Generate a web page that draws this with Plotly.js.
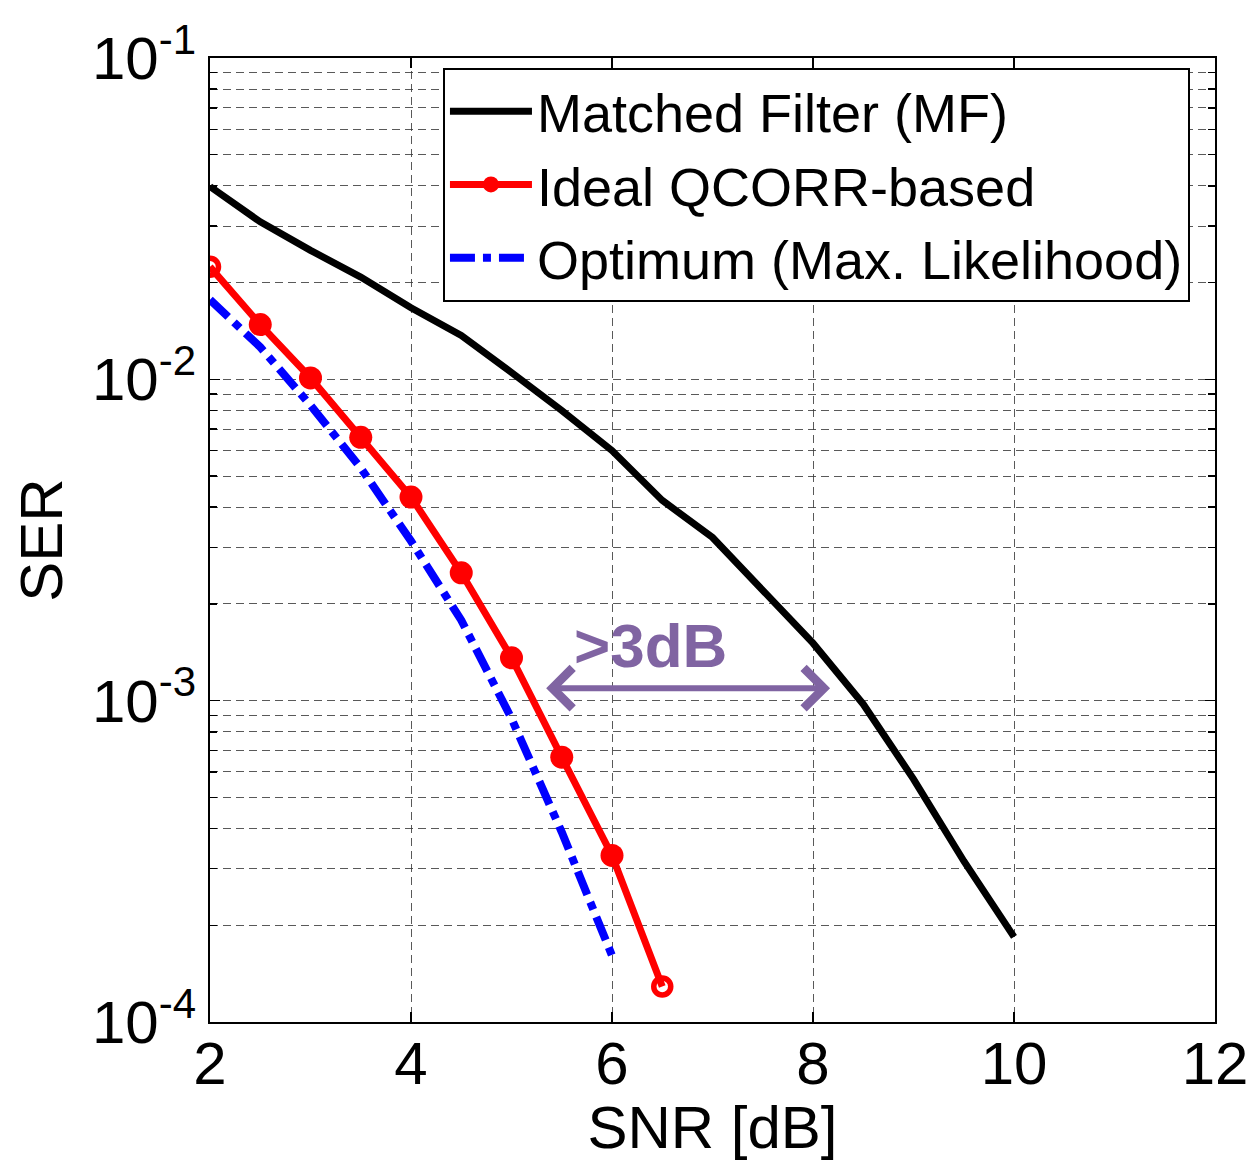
<!DOCTYPE html>
<html>
<head>
<meta charset="utf-8">
<script src="https://cdn.plot.ly/plotly-3.0.1.min.js"></script>
<style>
  html, body { margin: 0; padding: 0; background: #fff; }
  #chart { width: 1254px; height: 1161px; }
</style>
</head>
<body>
<div id="chart"></div>
<script>
// ---- Data ----
const snrMF = [2, 2.5, 3, 3.5, 4, 4.5, 5, 5.5, 6, 6.5, 7, 7.5, 8, 8.5, 9, 9.5, 10];
const serMF = [0.0398, 0.0309, 0.0252, 0.0208, 0.0167, 0.0137, 0.0105, 0.0080, 0.0060, 0.0042, 0.00322, 0.00222, 0.00151, 0.000975, 0.000570, 0.000317, 0.000184];

const snrQC = [2, 2.5, 3, 3.5, 4, 4.5, 5, 5.5, 6, 6.5];
const serQC = [0.0224, 0.0148, 0.0101, 0.0066, 0.0043, 0.0025, 0.00136, 0.000667, 0.00033, 0.000129];

const snrML = [2, 2.5, 3, 3.5, 4, 4.5, 5, 5.5, 6];
const serML = [0.0177, 0.0126, 0.0083, 0.0053, 0.00314, 0.00178, 0.00088, 0.00039, 0.000161];

const names = ['Matched Filter (MF)', 'Ideal QCORR-based', 'Optimum (Max. Likelihood)'];

const xTicks = [2, 4, 6, 8, 10, 12];
const yMajor = [1e-4, 1e-3, 1e-2, 1e-1];
const yMajorText = ['10<sup>-4</sup>', '10<sup>-3</sup>', '10<sup>-2</sup>', '10<sup>-1</sup>'];

// annotation ">3dB" arrow (SNR from / to, SER level) and label position
const gapLabel = '>3dB';
const gapFrom = 5.33, gapTo = 8.17, gapSER = 0.001094;
const labelSNR = 6.38, labelSER = 0.00149;

// ---- Minor grid positions (2..9 x each decade) ----
const yMinor = [];
for (let d = 0; d < yMajor.length - 1; d++) {
  for (let m = 2; m <= 9; m++) yMinor.push(m * yMajor[d]);
}

const FONT = 'Arial, "Liberation Sans", Helvetica, sans-serif';
const RED = '#ff0000';
const PURPLE = '#8064A2';

const qcSizes = serQC.map((v, i) => (i === 0 || i === serQC.length - 1) ? 0 : 23);
const endIdx = [0, serQC.length - 1];

const traces = [
  {
    x: snrMF, y: serMF, name: names[0], type: 'scatter', mode: 'lines',
    line: { color: '#000000', width: 7 }
  },
  {
    x: snrQC, y: serQC, name: names[1], type: 'scatter', mode: 'lines+markers',
    line: { color: RED, width: 7 },
    marker: { color: RED, size: qcSizes, symbol: 'circle', opacity: 1, line: { width: 0 } }
  },
  {
    x: endIdx.map(i => snrQC[i]), y: endIdx.map(i => serQC[i]), name: names[1],
    type: 'scatter', mode: 'markers', showlegend: false,
    marker: { color: RED, size: 17, symbol: 'circle-open', opacity: 1, line: { color: RED, width: 5.5 } }
  },
  {
    x: snrML, y: serML, name: names[2], type: 'scatter', mode: 'lines',
    line: { color: '#0000ff', width: 8, dash: '25px,8px,8px,8px' }
  }
];

const GRIDC = 'rgba(60,60,60,0.85)';

const layout = {
  width: 1254, height: 1161,
  margin: { l: 210, r: 39, t: 58, b: 139 },
  paper_bgcolor: '#ffffff', plot_bgcolor: '#ffffff',
  font: { family: FONT, color: '#000000' },
  showlegend: true,
  legend: {
    x: 0.2318, y: 0.99, xanchor: 'left', yanchor: 'top',
    bgcolor: '#ffffff', bordercolor: '#000000', borderwidth: 2,
    font: { family: FONT, size: 54, color: '#000000' },
    itemwidth: 82,
    tracegroupgap: 0
  },
  xaxis: {
    type: 'linear', range: [2, 12], tickvals: xTicks, ticktext: xTicks.map(String),
    showline: true, linecolor: '#000000', linewidth: 2, mirror: 'ticks',
    ticks: 'inside', ticklen: 10, tickwidth: 1.5, tickcolor: '#000000',
    showgrid: true, zeroline: false,
    gridcolor: GRIDC, gridwidth: 1, griddash: '8px,5px',
    ticklabelstandoff: -12,
    tickfont: { family: FONT, size: 60 },
    title: { text: 'SNR [dB]', font: { family: FONT, size: 60 }, standoff: 20 }
  },
  yaxis: {
    type: 'log', range: [-4, -1], tickvals: yMajor, ticktext: yMajorText,
    showline: true, linecolor: '#000000', linewidth: 2, mirror: 'ticks',
    ticks: 'inside', ticklen: 10, tickwidth: 1.5, tickcolor: '#000000',
    showgrid: true, zeroline: false,
    gridcolor: GRIDC, gridwidth: 1, griddash: '8px,5px',
    minor: {
      tickmode: 'array', tickvals: yMinor,
      ticks: 'inside', ticklen: 7, tickwidth: 1.5, tickcolor: '#000000',
      showgrid: true, gridcolor: GRIDC, gridwidth: 1, griddash: '8px,5px'
    },
    tickfont: { family: FONT, size: 60 },
    title: { text: 'SER', font: { family: FONT, size: 60 }, standoff: 10 }
  },
  annotations: [
    {
      x: gapTo, y: Math.log10(gapSER), ax: gapFrom, ay: Math.log10(gapSER),
      xref: 'x', yref: 'y', axref: 'x', ayref: 'y',
      text: '', showarrow: true, arrowhead: 4, startarrowhead: 4, arrowside: 'end+start',
      arrowsize: 1.3, startarrowsize: 1.3, arrowwidth: 6, arrowcolor: PURPLE,
      standoff: 0, startstandoff: 0
    },
    {
      x: labelSNR, y: Math.log10(labelSER), xref: 'x', yref: 'y',
      text: '<b>' + gapLabel.replace('>', '&gt;') + '</b>', showarrow: false,
      font: { family: FONT, size: 62, color: PURPLE },
      xanchor: 'center', yanchor: 'middle'
    }
  ]
};

Plotly.newPlot('chart', traces, layout, { displayModeBar: false, staticPlot: true });
</script>
</body>
</html>
